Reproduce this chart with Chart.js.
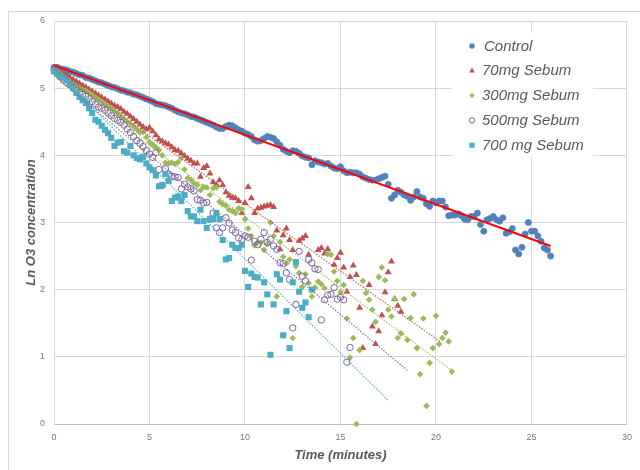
<!DOCTYPE html>
<html><head><meta charset="utf-8">
<script src="https://cdn.jsdelivr.net/npm/chart.js@4.4.1/dist/chart.umd.min.js"></script>
<style>html,body{margin:0;padding:0;background:#fff}#wrap{width:640px;height:470px;position:relative}</style>
</head><body><div id="wrap"><canvas id="c" width="640" height="470"></canvas></div>
<script>
// Sample times in seconds (10 s sampling)
const timeSec = [
0,10,20,30,40,50,60,70,80,90,100,110,
120,130,140,150,160,170,180,190,200,210,220,230,
240,250,260,270,280,290,300,310,320,330,340,350,
360,370,380,390,400,410,420,430,440,450,460,470,
480,490,500,510,520,530,540,550,560,570,580,590,
600,610,620,630,640,650,660,670,680,690,700,710,
720,730,740,750,760,770,780,790,800,810,820,830,
840,850,860,870,880,890,900,910,920,930,940,950,
960,970,980,990,1000,1010,1020,1030,1040,1050,1060,1070,
1080,1090,1100,1110,1120,1130,1140,1150,1160,1170,1180,1190,
1200,1210,1220,1230,1240,1250,1260,1270,1280,1290,1300,1310,
1320,1330,1340,1350,1360,1370,1380,1390,1400,1410,1420,1430,
1440,1450,1460,1470,1480,1490,1500,1510,1520,1530,1540,1550,
1560];

const seriesNames = ['Control','70mg Sebum','300mg Sebum','500mg Sebum','700 mg Sebum'];

const control = [
5.31,5.31,5.29,5.28,5.27,5.25, 5.24,5.22,5.20,5.19,5.16,5.15,
5.13,5.11,5.09,5.08,5.06,5.04, 5.02,5.01,4.99,4.97,4.96,4.94,
4.93,4.91,4.90,4.88,4.86,4.84, 4.82,4.80,4.77,4.76,4.75,4.74,
4.72,4.70,4.67,4.65,4.63,4.62, 4.60,4.58,4.57,4.55,4.53,4.51,
4.49,4.47,4.45,4.42,4.40,4.40, 4.43,4.45,4.44,4.41,4.38,4.36,
4.33,4.31,4.28,4.23,4.21,4.22, 4.25,4.28,4.27,4.25,4.20,4.15,
4.09,4.06,4.04,4.07,4.06,4.03, 3.99,3.97,3.96,3.86,3.92,3.90,
3.89,3.87,3.88,3.84,3.81,3.80, 3.83,3.77,3.74,3.75,3.74,3.74,
3.72,3.68,3.66,3.64,3.63,3.63, 3.65,3.67,3.69,3.57,3.36,3.41,
3.48,3.45,3.41,3.39,3.33,3.38, 3.46,3.38,3.36,3.28,3.24,3.32,
3.29,3.32,3.32,3.23,3.10,3.11, 3.11,3.13,3.10,3.05,3.04,3.09,
3.09,3.14,2.97,2.87,3.04,3.06, 3.09,3.04,3.02,3.07,2.84,2.86,
2.91,2.59,2.53,2.63,2.83,3.00, 2.87,2.87,2.80,2.72,2.62,2.59,
2.50];

const sebum70 = [
5.30,5.28,5.25,5.22,5.19,5.16, 5.13,5.10,5.07,5.04,5.01,4.98,
4.95,4.92,4.89,4.86,4.83,4.80, 4.77,4.74,4.72,4.69,4.65,4.62,
4.58,4.54,4.50,4.46,4.42,4.39, 4.41,4.36,4.30,4.24,4.21,4.18,
4.16,4.12,4.08,4.07,4.03,3.99, 3.95,3.92,3.88,3.88,3.68,3.81,
3.84,3.73,3.60,3.56,3.63,3.56, 3.45,3.40,3.37,3.36,3.32,3.14,
3.29,3.53,3.36,3.14,3.21,3.22, 3.24,3.25,3.26,3.23,2.88,2.60,
2.81,2.91,2.74,2.59,null,2.73, 2.76,2.80,2.52,null,null,2.59,
2.62,2.54,2.60,null,2.37,2.47, 2.55,2.33,1.97,2.19,2.36,2.22,
1.73,1.13,null,2.07,1.45,1.19, 1.38,1.62,1.96,2.26,2.42,1.86,
1.76,1.67];

const sebum300 = [
5.28,5.25,5.21,5.17,5.13,5.09, 5.06,5.03,5.00,4.98,4.96,4.93,
4.90,4.86,4.83,4.80,4.76,4.73, 4.70,4.66,4.63,4.58,4.54,4.50,
4.47,4.43,4.38,4.34,4.35,4.27, 4.20,4.16,4.12,4.08,4.00,3.89,
3.88,3.89,3.87,3.90,3.96,3.79, 3.66,3.63,3.58,3.56,3.48,3.53,
3.52,3.41,3.51,3.52,3.31,3.27, 3.25,3.19,3.17,3.14,3.21,3.20,
3.05,2.91,2.80,2.66,2.71,2.70, 2.59,2.68,3.00,2.80,1.90,2.71,
2.49,2.39,2.45,1.28,2.35,2.25, 2.04,2.23,2.10,1.90,2.03,2.12,
2.08,2.02,2.53,2.52,2.27,2.13, 1.96,2.07,1.57,0.99,1.28,0.00,
1.10,2.13,1.95,1.85,1.70,1.52, 2.19,2.33,2.14,1.70,1.60,1.86,
1.28,1.35,1.86,1.25,1.58,1.93, 1.13,0.74,1.57,0.27,0.91,1.13,
1.61,1.19,1.28,1.36,1.23,0.78];

const sebum500 = [
5.27,5.22,5.17,5.12,5.08,5.05, 5.01,4.97,4.94,4.91,4.88,4.84,
4.80,4.76,4.72,4.70,4.67,4.63, 4.59,4.55,4.52,4.49,4.45,4.39,
4.34,4.28,4.22,4.18,4.13,4.07, 4.02,3.97,4.04,3.79,3.55,3.80,
3.72,3.69,3.68,3.67,3.50,3.57, 3.53,3.50,3.47,3.34,3.33,3.29,
3.30,3.05,3.14,2.92,2.85,2.92, 3.07,2.99,2.89,2.85,2.77,2.75,
2.80,2.78,2.44,2.72,2.67,2.75, 2.85,2.70,2.75,2.65,2.60,2.40,
2.39,2.25,2.15,1.43,1.78,2.57, 2.20,2.13,2.45,2.40,2.31,2.30,
1.55,1.85,1.92,1.93,2.03,1.86, 1.89,1.85,0.92,1.14];

const sebum700 = [
5.25,5.22,5.18,5.15,5.12,5.06, 5.00,4.93,4.87,4.82,4.78,4.70,
4.63,4.53,4.50,4.44,4.38,4.33, 4.26,4.14,4.19,4.20,4.06,4.04,
4.14,4.00,3.96,3.94,3.98,3.88, 3.82,3.78,3.70,3.54,3.56,3.72,
3.62,3.32,3.37,3.39,3.32,3.41, 3.17,3.09,3.09,3.02,3.19,3.02,
2.92,3.05,3.05,3.14,3.05,2.74, 2.45,2.47,2.67,2.62,2.62,2.67,
2.28,2.04,2.24,2.19,2.18,1.78, 2.11,1.93,1.03,1.78,2.23,2.15,
1.32,1.68,1.13,2.11,2.41,1.97, 1.73,1.81,1.59,2.00];

// Linear trend lines (endpoints): [minutes, value]
const trendControl = [[0,5.34],[26.0,2.65]];
const trend70  = [[0,5.29],[20.2,1.23]];
const trend300 = [[0,5.20],[20.9,0.78]];
const trend500 = [[0,5.19],[18.5,0.80]];
const trend700 = [[0,5.27],[17.5,0.35]];

const xTickValues = [0,5,10,15,20,25,30];
const yTickValues = [0,1,2,3,4,5,6];

const toPts = vals => vals.map((v,i)=> v===null ? null : {x: timeSec[i]/60, y: v}).filter(p=>p);
const toLine = arr => arr.map(([x,y])=>({x,y}));

const FONT = '"Liberation Sans", Arial, sans-serif';
const colors = ['#4F81BD','#C0504D','#9BBB59','#8064A2','#4BACC6'];

function markerDS(label, vals, color, style, radius, order, open){
  return {
    label, data: toPts(vals), legendItem: true,
    pointStyle: style, pointRadius: radius, pointHoverRadius: radius,
    backgroundColor: open ? 'rgba(0,0,0,0)' : color,
    borderColor: color, borderWidth: open ? 1 : (style==='circle'?0.8:0),
    showLine: false, order, clip: false
  };
}
function trendDS(pts, color, width, dash){
  return {
    label: '', data: toLine(pts), type: 'line', showLine: true,
    borderColor: color, borderWidth: width, borderDash: dash,
    pointRadius: 0, pointHoverRadius: 0, fill: false, order: 0, clip: false
  };
}

const datasets = [
  markerDS(seriesNames[0], control, colors[0], 'circle', 3.0, 5, false),
  markerDS(seriesNames[1], sebum70, colors[1], 'triangle', 4.0, 4, false),
  markerDS(seriesNames[2], sebum300, colors[2], 'rectRot', 3.3, 3, false),
  markerDS(seriesNames[3], sebum500, colors[3], 'circle', 3.2, 2, true),
  markerDS(seriesNames[4], sebum700, colors[4], 'rect', 4.3, 1, false),
  trendDS(trendControl, '#FF0000', 2, []),
  trendDS(trend70, 'rgba(192,80,77,0.9)', 1.2, [1.5,1.5]),
  trendDS(trend300, 'rgba(155,187,89,0.9)', 1.2, [1.5,1.5]),
  trendDS(trend500, 'rgba(128,100,162,0.9)', 1.2, [1.5,1.5]),
  trendDS(trend700, 'rgba(75,172,198,0.9)', 1.2, [1.5,1.5])
];

function drawMarker(ctx, style, x, y, r, color, open){
  ctx.beginPath();
  if (style==='circle'){ ctx.arc(x,y,r,0,Math.PI*2); }
  else if (style==='triangle'){ ctx.moveTo(x, y-r); ctx.lineTo(x+r*0.866, y+r*0.5); ctx.lineTo(x-r*0.866, y+r*0.5); ctx.closePath(); }
  else if (style==='rectRot'){ ctx.moveTo(x-r,y); ctx.lineTo(x,y-r); ctx.lineTo(x+r,y); ctx.lineTo(x,y+r); ctx.closePath(); }
  else { const s=r*0.7071; ctx.rect(x-s,y-s,2*s,2*s); }
  if (open){ ctx.strokeStyle=color; ctx.lineWidth=1; ctx.stroke(); }
  else { ctx.fillStyle=color; ctx.fill(); }
}

const bgPlugin = {
  id: 'bg',
  beforeDraw(chart){
    const ctx = chart.ctx;
    ctx.save();
    ctx.fillStyle = '#fff';
    ctx.fillRect(0,0,chart.width,chart.height);
    ctx.strokeStyle = '#d9d9d9';
    ctx.lineWidth = 1;
    ctx.strokeRect(8.5, 11.5, 640, 470);
    ctx.restore();
  }
};

const legendPlugin = {
  id: 'boxLegend',
  afterDraw(chart){
    const ctx = chart.ctx;
    ctx.save();
    ctx.fillStyle = '#fff';
    ctx.fillRect(452, 33, 141, 124);
    const items = chart.data.datasets.filter(d=>d.legendItem);
    items.forEach((d,k)=>{
      const y = 46 + k*24.8;
      const open = d.backgroundColor === 'rgba(0,0,0,0)';
      const r = d.pointStyle==='rect' ? 3.6 : (d.pointStyle==='triangle' ? 3.2 : 2.7);
      drawMarker(ctx, d.pointStyle, 472, y, r, d.borderColor, open);
      ctx.fillStyle = '#595959';
      ctx.font = 'italic 15px ' + FONT;
      ctx.textBaseline = 'middle';
      ctx.textAlign = 'left';
      ctx.fillText(d.label, k===0 ? 484 : 482, y + 0.5);
    });
    ctx.restore();
  }
};

new Chart(document.getElementById('c'), {
  type: 'scatter',
  data: { datasets },
  options: {
    responsive: false,
    animation: false,
    events: [],
    layout: { padding: { left: 8, top: 21, right: 12, bottom: 0 } },
    plugins: { legend: { display: false }, tooltip: { enabled: false } },
    scales: {
      x: {
        type: 'linear', min: xTickValues[0], max: xTickValues[xTickValues.length-1],
        afterBuildTicks: s => { s.ticks = xTickValues.map(v=>({value:v})); },
        afterFit: s => { s.height = 46; },
        ticks: { color: '#7a7a7a', font: { family: FONT, size: 9 }, padding: 8, maxRotation: 0 },
        grid: { color: '#d9d9d9', lineWidth: 1, drawTicks: false },
        border: { color: '#bfbfbf', width: 1 },
        title: { display: true, text: 'Time (minutes)', color: '#595959',
                 font: { family: FONT, size: 13, weight: 'bold', style: 'italic' },
                 padding: { top: 0, bottom: 7 } }
      },
      y: {
        type: 'linear', min: yTickValues[0], max: yTickValues[yTickValues.length-1],
        afterBuildTicks: s => { s.ticks = yTickValues.map(v=>({value:v})); },
        afterFit: s => { s.width = 46; },
        ticks: { color: '#7a7a7a', font: { family: FONT, size: 9 }, padding: 9 },
        grid: { color: '#d9d9d9', lineWidth: 1, drawTicks: false },
        border: { color: '#d9d9d9', width: 1 },
        title: { display: true, text: 'Ln O3 concentration', color: '#595959',
                 font: { family: FONT, size: 13, weight: 'bold', style: 'italic' },
                 padding: { top: 16, bottom: 0 } }
      }
    }
  },
  plugins: [bgPlugin, legendPlugin]
});
</script>
</body></html>
